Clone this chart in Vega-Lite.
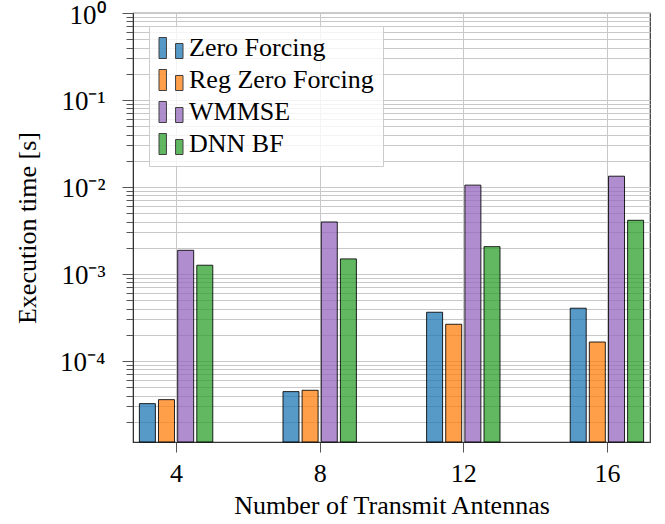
{
  "$schema": "https://vega.github.io/schema/vega-lite/v6.json",
  "width": 517,
  "height": 429,
  "autosize": {"type": "none"},
  "padding": {"left": 133, "top": 13, "right": 15, "bottom": 82},
  "config": {
    "view": {"stroke": "#333333", "strokeWidth": 1.2},
    "font": "Liberation Serif"
  },
  "data": {
    "values": [
      {"n": 4, "method": "Zero Forcing", "time": 3.23e-5},
      {"n": 4, "method": "Reg Zero Forcing", "time": 3.59e-5},
      {"n": 4, "method": "WMMSE", "time": 1.87e-3},
      {"n": 4, "method": "DNN BF", "time": 1.26e-3},
      {"n": 8, "method": "Zero Forcing", "time": 4.44e-5},
      {"n": 8, "method": "Reg Zero Forcing", "time": 4.6e-5},
      {"n": 8, "method": "WMMSE", "time": 3.96e-3},
      {"n": 8, "method": "DNN BF", "time": 1.49e-3},
      {"n": 12, "method": "Zero Forcing", "time": 3.63e-4},
      {"n": 12, "method": "Reg Zero Forcing", "time": 2.64e-4},
      {"n": 12, "method": "WMMSE", "time": 1.05e-2},
      {"n": 12, "method": "DNN BF", "time": 2.06e-3},
      {"n": 16, "method": "Zero Forcing", "time": 4.04e-4},
      {"n": 16, "method": "Reg Zero Forcing", "time": 1.65e-4},
      {"n": 16, "method": "WMMSE", "time": 1.33e-2},
      {"n": 16, "method": "DNN BF", "time": 4.14e-3}
    ]
  },
  "encoding": {
    "x": {
      "field": "n",
      "type": "quantitative",
      "scale": {"domain": [2.8, 17.2], "nice": false, "zero": false, "padding": 0},
      "axis": {
        "values": [4, 8, 12, 16],
        "format": "d",
        "title": "Number of Transmit Antennas",
        "titleFont": "Liberation Serif",
        "titleFontSize": 26,
        "titleFontWeight": "normal",
        "titleColor": "black",
        "titleY": 71,
        "titleBaseline": "alphabetic",
        "labelFont": "Liberation Serif",
        "labelFontSize": 26,
        "labelColor": "black",
        "labelPadding": 8,
        "labelFlush": false,
        "labelOverlap": false,
        "tickSize": 10,
        "tickColor": "#555555",
        "domainColor": "#333333",
        "grid": true,
        "gridColor": "#c8c8c8",
        "gridWidth": 1
      }
    },
    "y": {
      "field": "time",
      "type": "quantitative",
      "scale": {"type": "log", "domain": [1.17e-5, 1], "nice": false},
      "axis": {
        "values": [0.00002, 0.00003, 0.00004, 0.00005, 0.00006, 0.00007, 0.00008, 0.00009,
                   0.0001, 0.0002, 0.0003, 0.0004, 0.0005, 0.0006, 0.0007, 0.0008, 0.0009,
                   0.001, 0.002, 0.003, 0.004, 0.005, 0.006, 0.007, 0.008, 0.009,
                   0.01, 0.02, 0.03, 0.04, 0.05, 0.06, 0.07, 0.08, 0.09,
                   0.1, 0.2, 0.3, 0.4, 0.5, 0.6, 0.7, 0.8, 0.9, 1],
        "labelExpr": "datum.value == 1 ? '10⁰' : datum.value == 0.1 ? '10⁻¹' : datum.value == 0.01 ? '10⁻²' : datum.value == 0.001 ? '10⁻³' : datum.value == 0.0001 ? '10⁻⁴' : ''",
        "title": "Execution time [s]",
        "titleFont": "Liberation Serif",
        "titleFontSize": 26,
        "titleFontWeight": "normal",
        "titleColor": "black",
        "titleX": -106,
        "titleY": 214.5,
        "titleAngle": -90,
        "titleAlign": "center",
        "titleBaseline": "middle",
        "labelFont": "Liberation Serif",
        "labelFontSize": 27,
        "labelColor": "black",
        "labelPadding": 17,
        "labelOffset": 2,
        "labelOverlap": false,
        "labelFlush": false,
        "labelBound": false,
        "tickSize": {"condition": {"test": "datum.value == 1 || datum.value == 0.1 || datum.value == 0.01 || datum.value == 0.001 || datum.value == 0.0001", "value": 11}, "value": 7},
        "tickColor": "#555555",
        "domainColor": "#333333",
        "grid": true,
        "gridColor": "#c8c8c8",
        "gridWidth": 1
      }
    },
    "y2": {"datum": 1.17e-5},
    "color": {
      "field": "method",
      "type": "nominal",
      "scale": {
        "domain": ["Zero Forcing", "Reg Zero Forcing", "WMMSE", "DNN BF"],
        "range": ["#1f77b4", "#ff7f0e", "#9467bd", "#2ca02c"]
      },
      "legend": {
        "orient": "none",
        "legendX": 16,
        "legendY": 13,
        "direction": "vertical",
        "title": null,
        "symbolType": "M-1,-0.875H-0.38V0.875H-1Z M0.38,-0.375H1V0.875H0.38Z",
        "symbolSize": 576,
        "symbolStrokeColor": "black",
        "symbolStrokeWidth": 1,
        "symbolOpacity": 0.75,
        "labelFont": "Liberation Serif",
        "labelFontSize": 26,
        "labelColor": "black",
        "labelOffset": 5,
        "labelLimit": 400,
        "rowPadding": 6,
        "padding": 9,
        "fillColor": "rgba(255,255,255,0.8)",
        "strokeColor": "#cccccc"
      }
    }
  },
  "layer": [
    {
      "transform": [{"filter": "datum.method == 'Zero Forcing'"}],
      "mark": {"type": "bar", "orient": "vertical", "width": 16, "xOffset": -28.7, "fillOpacity": 0.75, "stroke": "black", "strokeWidth": 1, "strokeOpacity": 0.85}
    },
    {
      "transform": [{"filter": "datum.method == 'Reg Zero Forcing'"}],
      "mark": {"type": "bar", "orient": "vertical", "width": 16, "xOffset": -9.6, "fillOpacity": 0.75, "stroke": "black", "strokeWidth": 1, "strokeOpacity": 0.85}
    },
    {
      "transform": [{"filter": "datum.method == 'WMMSE'"}],
      "mark": {"type": "bar", "orient": "vertical", "width": 16, "xOffset": 9.6, "fillOpacity": 0.75, "stroke": "black", "strokeWidth": 1, "strokeOpacity": 0.85}
    },
    {
      "transform": [{"filter": "datum.method == 'DNN BF'"}],
      "mark": {"type": "bar", "orient": "vertical", "width": 16, "xOffset": 28.7, "fillOpacity": 0.75, "stroke": "black", "strokeWidth": 1, "strokeOpacity": 0.85}
    }
  ]
}
